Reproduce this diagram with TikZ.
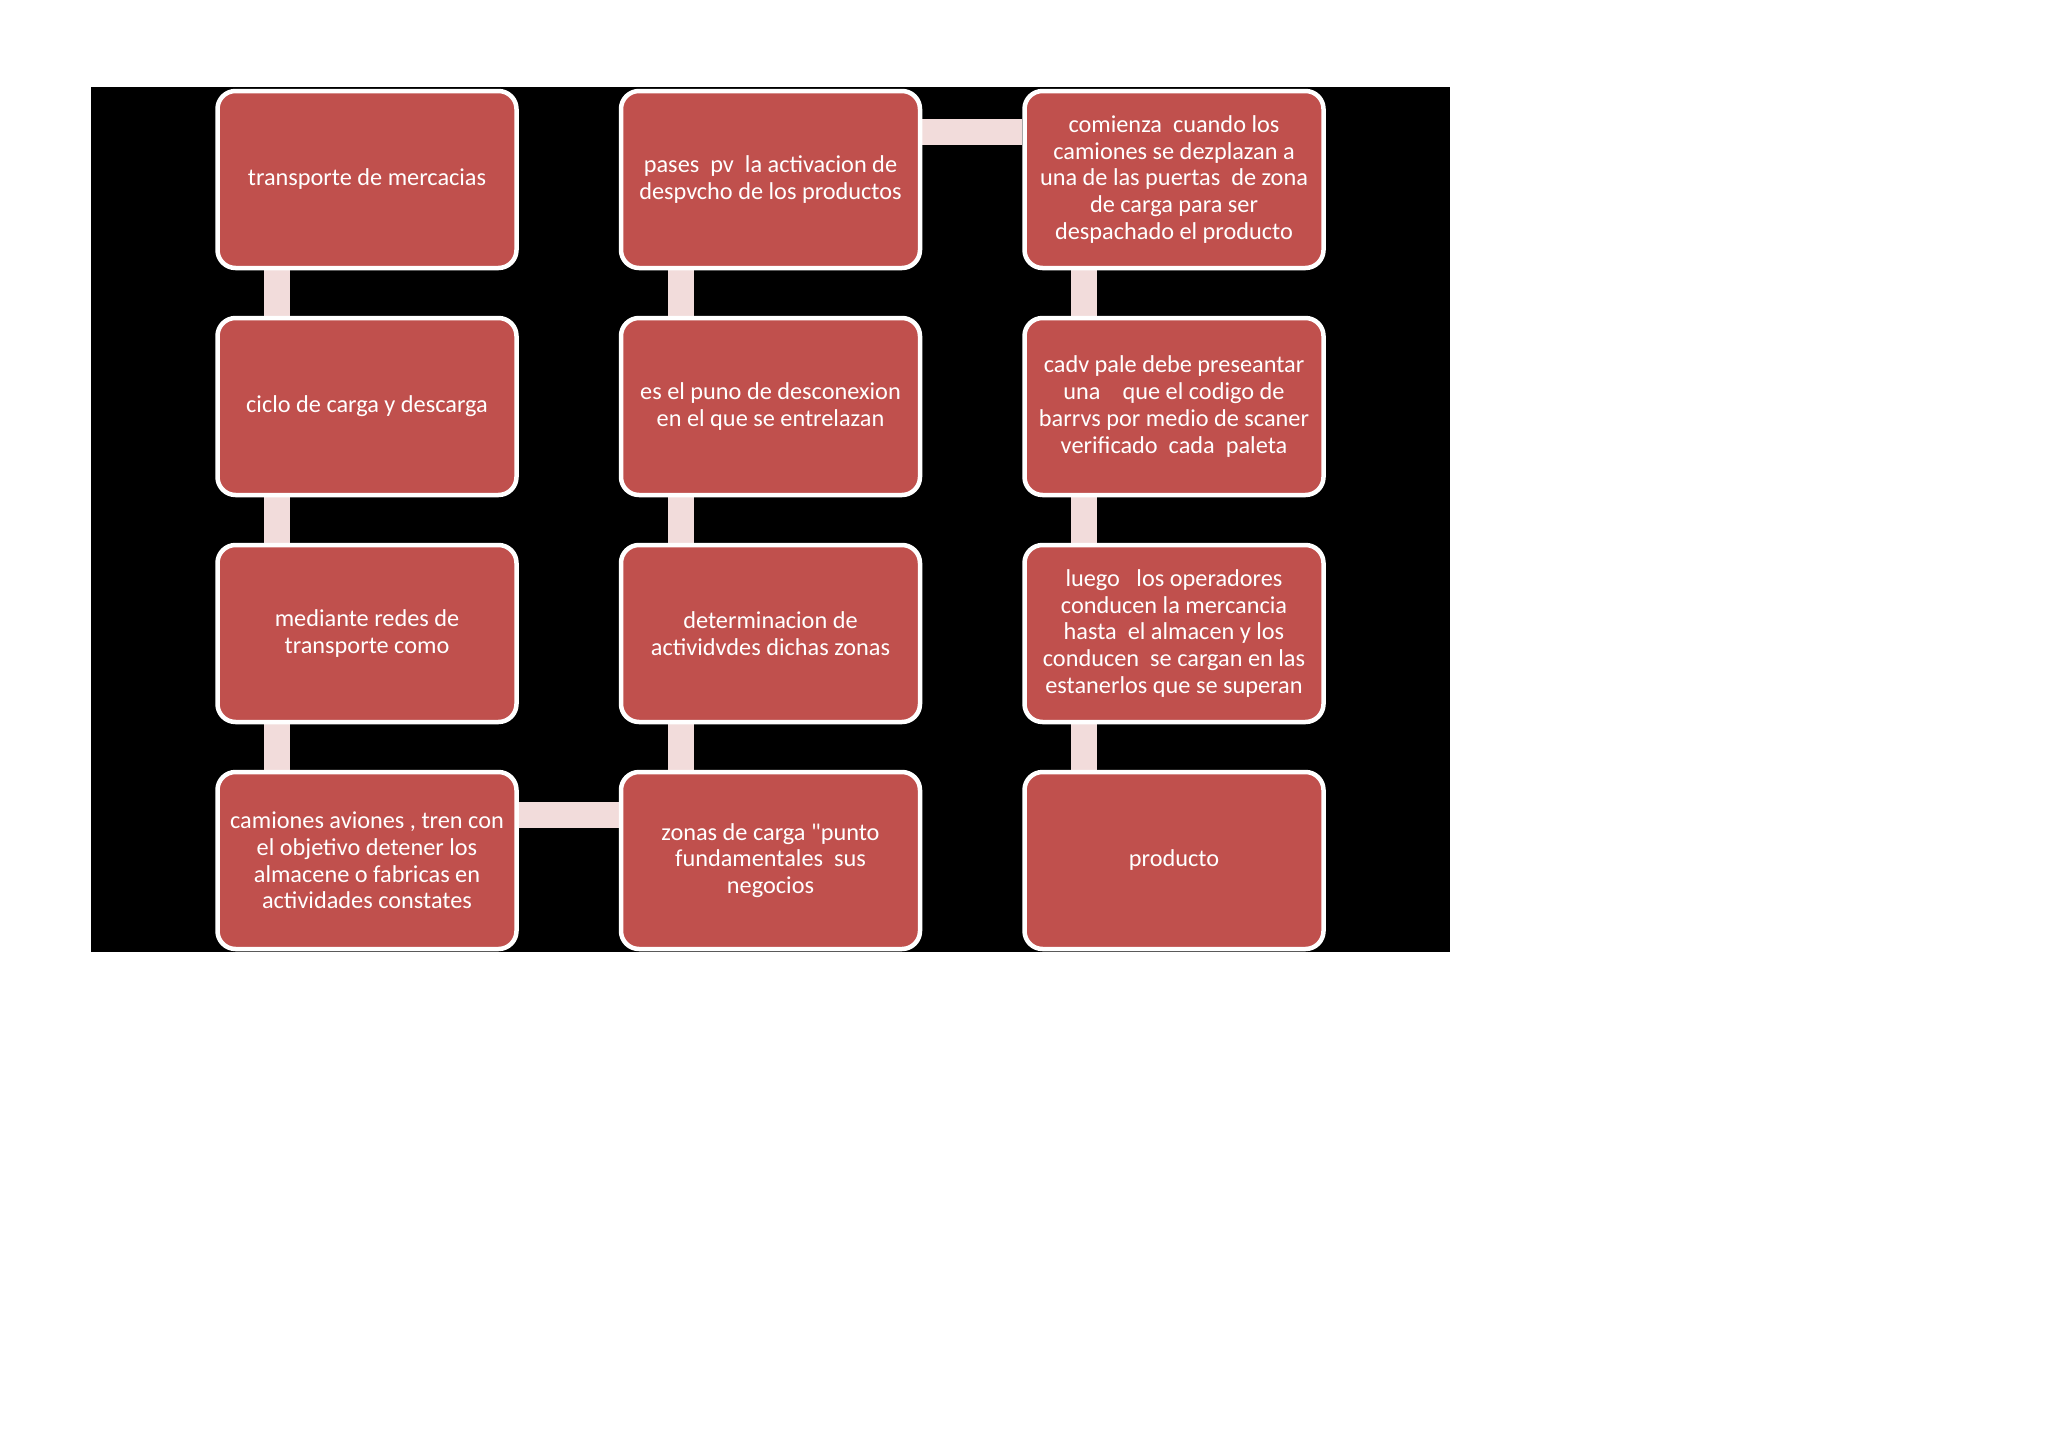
\documentclass[tikz,border=0pt]{standalone}
\usepackage{fontspec}
\setmainfont{Carlito}[Ligatures=TeXOff]
\usetikzlibrary{backgrounds}
\definecolor{boxred}{HTML}{C0504D}
\definecolor{barpink}{HTML}{F2DCDB}
\tikzset{
  stepbox/.style={rectangle, rounded corners=18pt, draw=white, line width=4.5pt,
    fill=boxred, minimum width=299pt, minimum height=177pt, text=white,
    align=center, font=\fontsize{24.3pt}{26.8pt}\selectfont, inner sep=0pt},
  linkbar/.style={draw=barpink, line width=26pt, line cap=butt}
}
\begin{document}
\begin{tikzpicture}[x=1pt,y=-1pt]
\useasboundingbox (0,0) rectangle (2048,1448);
% column 1
\node[stepbox] (a1) at (367,179.5) {transporte de mercacias};
\node[stepbox] (a2) at (367,406.5) {ciclo de carga y descarga};
\node[stepbox] (a3) at (367,633.5) {mediante redes de\\transporte como};
\node[stepbox] (a4) at (367,860.5) {camiones aviones , tren con\\el objetivo detener los\\almacene o fabricas en\\actividades constates};
% column 2
\node[stepbox] (b1) at (770.5,179.5) {pases~ pv~ la activacion de\\despvcho de los productos};
\node[stepbox] (b2) at (770.5,406.5) {es el puno de desconexion\\en el que se entrelazan};
\node[stepbox] (b3) at (770.5,633.5) {determinacion de\\actividvdes dichas zonas};
\node[stepbox] (b4) at (770.5,860.5) {zonas de carga "punto\\fundamentales~ sus\\negocios};
% column 3
\node[stepbox] (c1) at (1174,179.5) {comienza~ cuando los\\camiones se dezplazan a\\una de las puertas~ de zona\\de carga para ser\\despachado el producto};
\node[stepbox] (c2) at (1174,406.5) {cadv pale debe preseantar\\una~~~ que el codigo de\\barrvs por medio de scaner\\verificado~ cada~ paleta};
\node[stepbox] (c3) at (1174,633.5) {luego~~ los operadores\\conducen la mercancia\\hasta~ el almacen y los\\conducen~ se cargan en las\\estanerlos que se superan};
\node[stepbox] (c4) at (1174,860.5) {producto};
\begin{scope}[on background layer]
\fill[white] (0,0) rectangle (2048,1448);
\fill[black] (91,87) rectangle (1450,952);
\draw[linkbar] ([xshift=62pt]a1.south west) -- ([xshift=62pt]a2.north west);
\draw[linkbar] ([xshift=62pt]a2.south west) -- ([xshift=62pt]a3.north west);
\draw[linkbar] ([xshift=62pt]a3.south west) -- ([xshift=62pt]a4.north west);
\draw[linkbar] ([yshift=-45pt]a4.north east) -- ([yshift=-45pt]b4.north west);
\draw[linkbar] ([xshift=62pt]b4.north west) -- ([xshift=62pt]b3.south west);
\draw[linkbar] ([xshift=62pt]b3.north west) -- ([xshift=62pt]b2.south west);
\draw[linkbar] ([xshift=62pt]b2.north west) -- ([xshift=62pt]b1.south west);
\draw[linkbar] ([yshift=-43pt]b1.north east) -- ([yshift=-43pt]c1.north west);
\draw[linkbar] ([xshift=62pt]c1.south west) -- ([xshift=62pt]c2.north west);
\draw[linkbar] ([xshift=62pt]c2.south west) -- ([xshift=62pt]c3.north west);
\draw[linkbar] ([xshift=62pt]c3.south west) -- ([xshift=62pt]c4.north west);
\end{scope}
\end{tikzpicture}
\end{document}
